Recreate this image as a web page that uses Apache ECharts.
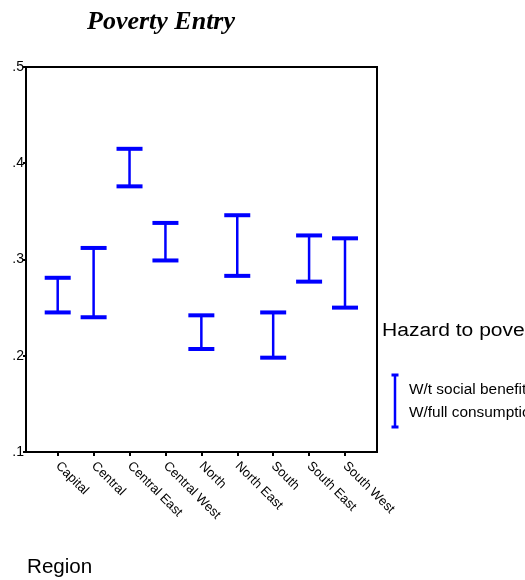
<!DOCTYPE html>
<html>
<head>
<meta charset="utf-8">
<title>Poverty Entry</title>
<script src="https://cdn.jsdelivr.net/npm/echarts@6/dist/echarts.min.js"></script>
<style>
  html, body { margin: 0; padding: 0; background: #fff; }
  #chart { width: 525px; height: 580px; }
</style>
</head>
<body>
<div id="chart"></div>
<script>
// Regions on the horizontal axis
const regions = ['Capital', 'Central', 'Central East', 'Central West', 'North',
                 'North East', 'South', 'South East', 'South West'];
// Hazard to poverty: without social benefits (upper end of each bar)
const withoutSocialBenefits = [0.281, 0.312, 0.415, 0.338, 0.242, 0.346, 0.245, 0.325, 0.322];
// Hazard to poverty: full consumption (lower end of each bar)
const fullConsumption = [0.245, 0.240, 0.376, 0.299, 0.207, 0.283, 0.198, 0.277, 0.250];
// Vertical axis ticks and their printed labels
const yTicks = [0.1, 0.2, 0.3, 0.4, 0.5];
const yTickLabels = ['.1', '.2', '.3', '.4', '.5'];

const legendTitle = 'Hazard to poverty';
const legendNames = ['W/t social benefits', 'W/full consumption'];
const chartTitle = 'Poverty Entry';
const xAxisTitle = 'Region';

const SANS = '"Liberation Sans", Arial, sans-serif';
const BLUE = '#0000ff';

const chart = echarts.init(document.getElementById('chart'), null, { renderer: 'canvas' });

const barData = regions.map((r, i) => [i, withoutSocialBenefits[i], fullConsumption[i]]);

function yLabel(v) {
  const idx = yTicks.findIndex(t => Math.abs(t - v) < 1e-9);
  return idx >= 0 ? yTickLabels[idx] : '';
}

const option = {
  animation: false,
  backgroundColor: '#fff',
  grid: [
    // outer frame of the plot
    { left: 26, top: 67, width: 351, height: 385, show: true,
      borderColor: '#000', borderWidth: 2, backgroundColor: 'transparent' },
    // inner band holding the region positions
    { left: 57.7, top: 67, width: 287.3, height: 385 }
  ],
  xAxis: [
    { gridIndex: 0, type: 'value', min: 0, max: 1, show: false },
    { gridIndex: 1, type: 'category', data: regions, boundaryGap: false,
      axisLine: { show: false },
      axisTick: { show: true, inside: false, length: 4, alignWithLabel: true,
                  lineStyle: { color: '#000', width: 2 } },
      axisLabel: { interval: 0, rotate: -45, margin: 12, color: '#000',
                   fontFamily: SANS, fontSize: 13 },
      splitLine: { show: false } }
  ],
  yAxis: [
    { gridIndex: 0, type: 'value', min: 0.1, max: 0.5, interval: 0.1,
      axisLine: { show: true, lineStyle: { color: '#000', width: 2 } },
      axisTick: { show: true, inside: false, length: 3, lineStyle: { color: '#000', width: 2 } },
      axisLabel: { formatter: yLabel, color: '#000', fontFamily: SANS, fontSize: 14, margin: 2 },
      splitLine: { show: false } },
    { gridIndex: 1, type: 'value', min: 0.1, max: 0.5, show: false }
  ],
  series: [{
    type: 'custom',
    xAxisIndex: 1,
    yAxisIndex: 1,
    data: barData,
    renderItem: function (params, api) {
      const hi = api.coord([api.value(0), api.value(1)]);
      const lo = api.coord([api.value(0), api.value(2)]);
      const x = hi[0];
      const half = 13;
      return {
        type: 'group',
        children: [
          { type: 'line', shape: { x1: x, y1: hi[1], x2: x, y2: lo[1] },
            style: { stroke: BLUE, lineWidth: 2.5 } },
          { type: 'line', shape: { x1: x - half, y1: hi[1], x2: x + half, y2: hi[1] },
            style: { stroke: BLUE, lineWidth: 4 } },
          { type: 'line', shape: { x1: x - half, y1: lo[1], x2: x + half, y2: lo[1] },
            style: { stroke: BLUE, lineWidth: 4 } }
        ]
      };
    }
  }],
  graphic: [
    { type: 'text', x: 87, y: 22,
      style: { text: chartTitle, fill: '#000', verticalAlign: 'middle',
               font: 'italic bold 26px "Liberation Serif", "Times New Roman", serif' } },
    { type: 'text', x: 382, y: 331, scaleX: 1.17,
      style: { text: legendTitle, fill: '#000', font: '18px ' + SANS, verticalAlign: 'middle' } },
    { type: 'line', shape: { x1: 395, y1: 374.5, x2: 395, y2: 427.5 },
      style: { stroke: BLUE, lineWidth: 2.5 } },
    { type: 'line', shape: { x1: 391.5, y1: 375, x2: 398.5, y2: 375 },
      style: { stroke: BLUE, lineWidth: 3 } },
    { type: 'line', shape: { x1: 391.5, y1: 427, x2: 398.5, y2: 427 },
      style: { stroke: BLUE, lineWidth: 3 } },
    { type: 'text', x: 409, y: 390, scaleX: 1.1,
      style: { text: legendNames[0], fill: '#000', font: '14px ' + SANS, verticalAlign: 'middle' } },
    { type: 'text', x: 409, y: 413, scaleX: 1.1,
      style: { text: legendNames[1], fill: '#000', font: '14px ' + SANS, verticalAlign: 'middle' } },
    { type: 'text', x: 27, y: 567, scaleX: 1.03,
      style: { text: xAxisTitle, fill: '#000', font: '20px ' + SANS, verticalAlign: 'middle' } }
  ]
};

chart.setOption(option);
</script>
</body>
</html>
